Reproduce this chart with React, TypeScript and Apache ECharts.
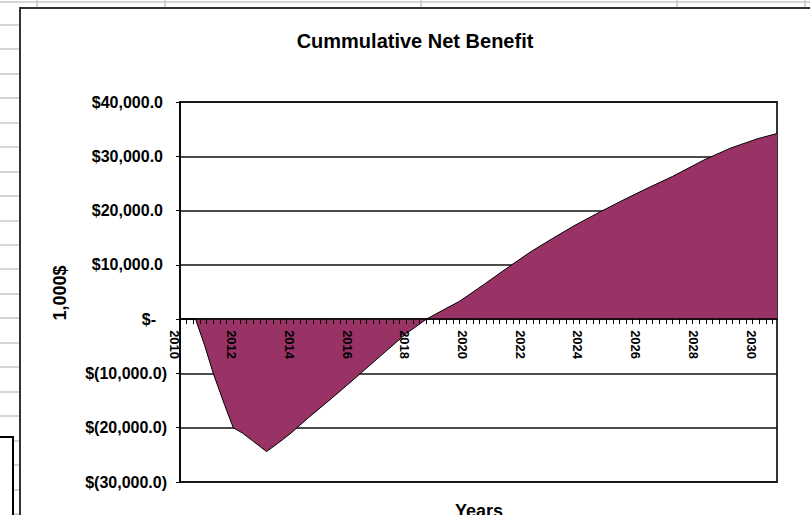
import { useEffect, useRef } from 'react';
import * as echarts from 'echarts';

// Accounting periods of four weeks: 13 per year, starting with 2010.
const START_YEAR = 2010;
const PERIODS_PER_YEAR = 13;
const PERIOD_COUNT = 270;

const periodCategories: string[] = Array.from({ length: PERIOD_COUNT }, (_, i) => {
  const year = START_YEAR + Math.floor(i / PERIODS_PER_YEAR);
  const p = (i % PERIODS_PER_YEAR) + 1;
  return `${year}-P${String(p).padStart(2, '0')}`;
});

// Cumulative net benefit (thousands of $) at selected periods (index into periodCategories).
const samplePeriods = [
  0, 7, 11, 15, 20, 24, 28, 33, 39, 44, 50, 58, 68, 78, 90, 102, 111, 120, 126, 137, 148, 158,
  168, 178, 189, 200, 210, 222, 236, 248, 260, 269,
];
const netBenefit = [
  0, 0, -4700, -10000, -15700, -20000, -20950, -22500, -24400, -22900, -21000, -18100, -14700,
  -11200, -6900, -2650, 0, 2000, 3300, 6400, 9600, 12400, 14900, 17300, 19700, 22000, 24000,
  26300, 29300, 31500, 33200, 34200,
];

const Y_MIN = -30000;
const Y_MAX = 40000;
const Y_STEP = 10000;

const GRID_TOP = 102;
const GRID_BOTTOM = 33;
const CHART_H = 515;

const FONT = '"Liberation Sans", Arial, sans-serif';

function groupThousands(v: number): string {
  const [intPart, dec] = Math.abs(v).toFixed(1).split('.');
  return intPart.replace(/\B(?=(\d{3})+(?!\d))/g, ',') + '.' + dec;
}

// Accounting-style label: $40,000.0 / $- / $(10,000.0)
function moneyLabel(v: number): string {
  if (v === 0) return '{z|$-}';
  if (v > 0) return `{p|$${groupThousands(v)}}`;
  return `{n|$(${groupThousands(v)})}`;
}

const labelFont = { fontFamily: FONT, fontSize: 16, fontWeight: 'bold' as const, color: '#000' };

// The category axis sits on the zero line: shift it up from the grid bottom.
const plotH = CHART_H - GRID_TOP - GRID_BOTTOM;
const zeroOffset = -(plotH * (0 - Y_MIN)) / (Y_MAX - Y_MIN);

// Spreadsheet cells showing around the chart object
const rowLines: any[] = [];
for (let y = 25; y < 520; y += 24.45) {
  rowLines.push({
    type: 'line',
    shape: { x1: 0, y1: Math.round(y), x2: 20, y2: Math.round(y) },
    style: { stroke: '#c8c8c8', lineWidth: 1.5 },
    silent: true,
  });
}
const colLines = [37, 165, 421, 677, 805].map((x) => ({
  type: 'line',
  shape: { x1: x, y1: 0, x2: x, y2: 8 },
  style: { stroke: '#c8c8c8', lineWidth: 1.5 },
  silent: true,
}));

const option: any = {
  animation: false,
  backgroundColor: '#ffffff',
  grid: {
    left: 180,
    right: 33,
    top: GRID_TOP,
    bottom: GRID_BOTTOM,
    show: true,
    borderColor: '#333',
    borderWidth: 2,
    backgroundColor: '#ffffff',
  },
  xAxis: {
    type: 'category',
    data: periodCategories,
    boundaryGap: false,
    position: 'bottom',
    offset: zeroOffset,
    z: 3,
    axisLine: { onZero: false, lineStyle: { color: '#000', width: 1.5 } },
    axisTick: { show: true, interval: 2, length: 5, lineStyle: { color: '#000', width: 1 } },
    axisLabel: {
      interval: 25,
      rotate: -90,
      margin: 11,
      verticalAlign: 'top',
      lineHeight: 12,
      fontFamily: FONT,
      fontSize: 13,
      fontWeight: 'bold',
      color: '#000',
      formatter: (v: string) => v.slice(0, 4),
    },
    splitLine: { show: false },
  },
  yAxis: {
    type: 'value',
    min: Y_MIN,
    max: Y_MAX,
    interval: Y_STEP,
    axisLine: { show: true, lineStyle: { color: '#000', width: 1.5 } },
    axisTick: { show: true, length: 4, lineStyle: { color: '#000' } },
    splitLine: { show: true, lineStyle: { color: '#111', width: 1.5 } },
    axisLabel: {
      margin: 13,
      ...labelFont,
      formatter: moneyLabel,
      rich: {
        p: { ...labelFont, padding: [0, 4, 0, 0] },
        z: { ...labelFont, padding: [0, 11, 0, 0] },
        n: { ...labelFont },
      },
    },
  },
  series: [
    {
      type: 'line',
      data: samplePeriods.map((p, i) => [p, netBenefit[i]]),
      symbol: 'none',
      lineStyle: { color: '#000', width: 1 },
      areaStyle: { color: '#993366', opacity: 1 },
    },
  ],
  graphic: [
    ...rowLines,
    ...colLines,
    {
      type: 'line',
      shape: { x1: 0, y1: 2, x2: 810, y2: 2 },
      style: { stroke: '#c8c8c8', lineWidth: 1.5 },
      silent: true,
    },
    // other object on the sheet, lower left
    {
      type: 'rect',
      shape: { x: -4, y: 437, width: 17, height: 90 },
      style: { fill: '#fff', stroke: '#000', lineWidth: 2 },
      silent: true,
    },
    // chart object frame
    {
      type: 'polyline',
      shape: { points: [[20, 520], [20, 8], [812, 8]] },
      style: { stroke: '#333', lineWidth: 2, fill: null },
      silent: true,
    },
    {
      type: 'text',
      x: 415,
      y: 41,
      style: {
        text: 'Cummulative Net Benefit',
        fontFamily: FONT,
        fontSize: 20,
        fontWeight: 'bold',
        fill: '#000',
        align: 'center',
        verticalAlign: 'middle',
      },
    },
    {
      type: 'text',
      x: 60,
      y: 293,
      rotation: Math.PI / 2,
      style: {
        text: '1,000$',
        fontFamily: FONT,
        fontSize: 18,
        fontWeight: 'bold',
        fill: '#000',
        align: 'center',
        verticalAlign: 'middle',
      },
    },
    {
      type: 'text',
      x: 479,
      y: 502,
      style: {
        text: 'Years',
        fontFamily: FONT,
        fontSize: 18,
        fontWeight: 'bold',
        fill: '#000',
        align: 'center',
        verticalAlign: 'top',
      },
    },
  ],
};

export default function App() {
  const ref = useRef<HTMLDivElement>(null);
  useEffect(() => {
    const chart = echarts.init(ref.current!, null, { renderer: 'svg' });
    chart.setOption(option);
    return () => chart.dispose();
  }, []);
  return (
    <div
      ref={ref}
      style={{ position: 'fixed', left: 0, top: 0, width: 810, height: 515 }}
    />
  );
}
